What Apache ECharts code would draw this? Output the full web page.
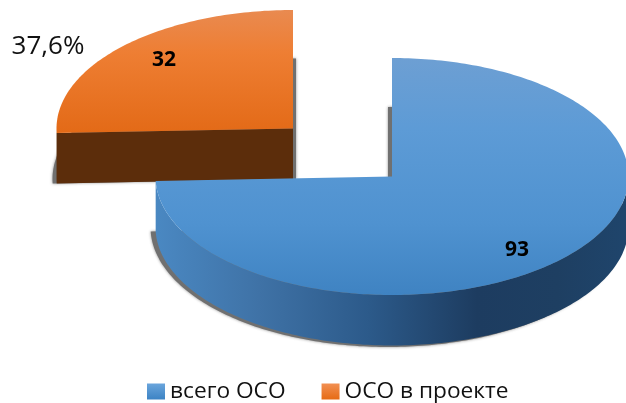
<!DOCTYPE html>
<html>
<head>
<meta charset="utf-8">
<style>html,body{margin:0;padding:0;background:#fff}#c{width:626px;height:403px}</style>
<script src="https://cdn.jsdelivr.net/npm/echarts@6/dist/echarts.min.js"></script>
</head>
<body>
<div id="c"></div>
<script>
const categories = ['всего ОСО', 'ОСО в проекте'];
const seriesValues = [93, 32];
const percentLabels = ['', '37,6%'];

const total = seriesValues.reduce((a, b) => a + b, 0);
const FONT = 'Open Sans';
const RX = 236.5, RY = 118.5, DEPTH = 50.5;
const anchors = [{cx: 392, cy: 176.5}, {cx: 293, cy: 128.5}];
const shadowShift = [{dx: -4, rx: 1, ry: 1.5}, {dx: 3, rx: 7, ry: 2}];
const labelPos = [{x: 517, y: 250}, {x: 164, y: 60}];
const pctPos = {x: 48, y: 47};

const vGrad = (stops) => ({type: 'linear', x: 0, y: 0, x2: 0, y2: 1,
  colorStops: stops.map(([offset, color]) => ({offset, color}))});
const hGrad = (stops) => ({type: 'linear', x: 0, y: 0, x2: 1, y2: 0,
  colorStops: stops.map(([offset, color]) => ({offset, color}))});

const topFill = [
  vGrad([[0, '#6d9fd3'], [0.3, '#5d9bd6'], [0.7, '#4f92d0'], [1, '#3f83c2']]),
  vGrad([[0, '#e98a50'], [0.35, '#ee7e33'], [1, '#e36a17']])
];
const sideFill = [
  hGrad([[0, '#4a88c2'], [0.22, '#3f72a6'], [0.45, '#2c5a8a'], [0.68, '#1d3c60'], [0.85, '#1e3f62'], [1, '#1f456c']]),
  '#5c2d0b'
];
const legendFill = [
  vGrad([[0, '#6aa5dc'], [1, '#3c83c4']]),
  vGrad([[0, '#f29053'], [1, '#e66b14']])
];

function pt(c, deg, rx, ry, dy) {
  const a = deg * Math.PI / 180;
  return [c.cx + rx * Math.sin(a), c.cy + (dy || 0) - ry * Math.cos(a)];
}
function arc(c, from, to, rx, ry, dy) {
  const pts = [], n = Math.max(2, Math.ceil(Math.abs(to - from)));
  for (let i = 0; i <= n; i++) pts.push(pt(c, from + (to - from) * i / n, rx, ry, dy));
  return pts;
}

function renderSlice(index) {
  return function (params, api) {
    const value = api.value(0);
    let start = 0;
    for (let i = 0; i < index; i++) start += seriesValues[i];
    const a0 = start / total * 360;
    const a1 = a0 + value / total * 360;
    const c = anchors[index];
    const children = [];

    // soft shadow cast behind the extruded slice
    const s = shadowShift[index];
    const sc = {cx: c.cx + s.dx, cy: c.cy};
    children.push({
      type: 'polygon',
      shape: {points: [[sc.cx, sc.cy + DEPTH]].concat(arc(sc, a0, a1, RX + s.rx, RY + s.ry, DEPTH))},
      style: {fill: '#707070', shadowBlur: 3, shadowColor: 'rgba(90,90,90,0.7)'}
    });

    // outer wall (front half of the rim only)
    const fa = Math.max(a0, 90), fb = Math.min(a1, 270);
    if (fb > fa) {
      const outer = arc(c, fa, fb, RX, RY).concat(arc(c, fb, fa, RX, RY, DEPTH));
      children.push({type: 'polygon', shape: {points: outer}, style: {fill: sideFill[index]}});
    }
    // cut wall facing the viewer
    if (index === 1) {
      const e = pt(c, a0, RX, RY);
      const wall = [[c.cx, c.cy], e, [e[0], e[1] + DEPTH], [c.cx, c.cy + DEPTH]];
      children.push({type: 'polygon', shape: {points: wall}, style: {fill: sideFill[index]}});
    }
    // top face
    children.push({
      type: 'polygon',
      shape: {points: [[c.cx, c.cy]].concat(arc(c, a0, a1, RX, RY))},
      style: {fill: topFill[index]}
    });
    // value label
    children.push({
      type: 'text',
      style: {x: labelPos[index].x, y: labelPos[index].y, text: String(value),
        fill: '#000', fontFamily: FONT, fontSize: 21, fontWeight: 'bold', align: 'center', verticalAlign: 'middle'}
    });
    if (percentLabels[index]) {
      children.push({
        type: 'text',
        style: {x: pctPos.x, y: pctPos.y, text: percentLabels[index],
          fill: '#111', fontFamily: FONT, fontSize: 26, align: 'center', verticalAlign: 'middle'}
      });
    }
    return {type: 'group', children};
  };
}

const chart = echarts.init(document.getElementById('c'), null, {renderer: 'canvas'});
chart.setOption({
  animation: false,
  backgroundColor: '#fff',
  legend: {
    left: 147, top: 380, padding: 0, itemWidth: 18, itemHeight: 16, itemGap: 36,
    icon: 'rect',
    textStyle: {fontFamily: FONT, fontSize: 22.7, color: '#111'},
    data: categories.map((name, i) => ({name, itemStyle: {color: legendFill[i]}}))
  },
  series: [1, 0].map(i => ({
    type: 'custom',
    name: categories[i],
    coordinateSystem: 'none',
    renderItem: renderSlice(i),
    data: [[seriesValues[i]]]
  }))
});
</script>
</body>
</html>
